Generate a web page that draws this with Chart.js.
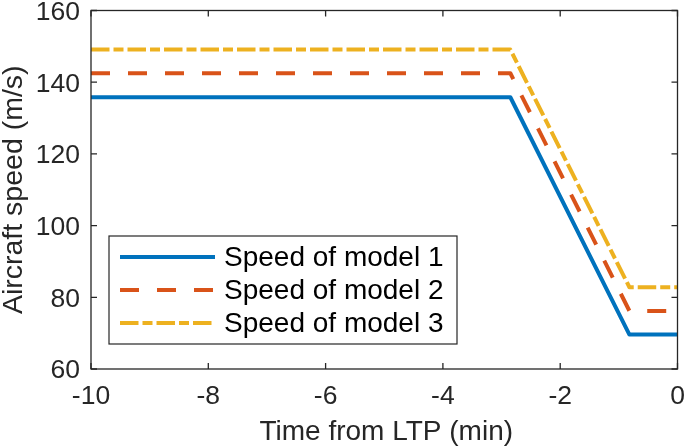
<!DOCTYPE html>
<html>
<head>
<meta charset="utf-8">
<script src="https://cdn.jsdelivr.net/npm/chart.js@4"></script>
<style>
html,body{margin:0;padding:0;background:#fff;}
#wrap{width:685px;height:446px;}
</style>
</head>
<body>
<div id="wrap"><canvas id="c" width="685" height="446"></canvas></div>
<script>
const timeBreaks = [-10, -2.85, -0.82, 0];
const speedModel1 = [135.8, 135.8, 69.6, 69.6];
const speedModel2 = [142.5, 142.5, 76.2, 76.2];
const speedModel3 = [149.1, 149.1, 82.8, 82.8];
const seriesLabels = ['Speed of model 1', 'Speed of model 2', 'Speed of model 3'];
const xTicks = [-10, -8, -6, -4, -2, 0];
const yTicks = [60, 80, 100, 120, 140, 160];
const xTitle = 'Time from LTP (min)';
const yTitle = 'Aircraft speed (m/s)';

const FONT = '"Liberation Sans", Arial, Helvetica, sans-serif';
const AX = '#262626';

function pts(ys){ return timeBreaks.map((x,i)=>({x:x,y:ys[i]})); }

const styles = [
  {color:'#0072BD', dash:[]},
  {color:'#D95319', dash:[19,18]},
  {color:'#EDB120', dash:[18.5,4,10,4]}
];

const datasets = [speedModel1, speedModel2, speedModel3].map((d,i)=>({
  label: seriesLabels[i],
  data: pts(d),
  showLine: true,
  borderColor: styles[i].color,
  backgroundColor: styles[i].color,
  borderWidth: 4,
  borderDash: styles[i].dash,
  pointRadius: 0,
  fill: false,
  tension: 0,
  borderJoinStyle: 'round'
}));

const boxPlugin = {
  id: 'boxPlugin',
  afterDraw(chart){
    const ctx = chart.ctx, a = chart.chartArea;
    const xs = chart.scales.x, ys = chart.scales.y;
    ctx.save();
    ctx.strokeStyle = AX; ctx.lineWidth = 1.3; ctx.setLineDash([]);
    ctx.strokeRect(a.left, a.top, a.right-a.left, a.bottom-a.top);
    const tl = 6;
    ctx.beginPath();
    xTicks.forEach(v=>{
      const px = xs.getPixelForValue(v);
      ctx.moveTo(px, a.bottom); ctx.lineTo(px, a.bottom-tl);
      ctx.moveTo(px, a.top); ctx.lineTo(px, a.top+tl);
    });
    yTicks.forEach(v=>{
      const py = ys.getPixelForValue(v);
      ctx.moveTo(a.left, py); ctx.lineTo(a.left+tl, py);
      ctx.moveTo(a.right, py); ctx.lineTo(a.right-tl, py);
    });
    ctx.stroke();

    // tick labels
    ctx.fillStyle = AX;
    ctx.textBaseline = 'alphabetic';
    const tf = 26.5;
    ctx.font = tf + 'px ' + FONT;
    ctx.textAlign = 'right';
    yTicks.forEach(v=>{
      const py = ys.getPixelForValue(v);
      ctx.fillText(String(v), a.left - 11, py + 0.716*tf/2);
    });
    ctx.textAlign = 'center';
    xTicks.forEach(v=>{
      const px = xs.getPixelForValue(v);
      ctx.fillText(String(v), px, a.bottom + 35);
    });

    // axis titles
    ctx.font = '28px ' + FONT;
    ctx.textAlign = 'center';
    ctx.fillText(xTitle, (a.left + a.right)/2 + 2, a.bottom + 71);
    ctx.save();
    ctx.translate(22, (a.top + a.bottom)/2);
    ctx.rotate(-Math.PI/2);
    ctx.font = '28.5px ' + FONT;
    ctx.fillText(yTitle, 0, 0);
    ctx.restore();

    // legend
    const bx = 109, by = 236, bw = 348, bh = 108;
    ctx.fillStyle = '#fff';
    ctx.fillRect(bx, by, bw, bh);
    ctx.strokeStyle = AX;
    ctx.lineWidth = 1.2;
    ctx.strokeRect(bx, by, bw, bh);
    chart.data.datasets.forEach((ds,i)=>{
      const cy = 257 + i*33;
      ctx.strokeStyle = ds.borderColor;
      ctx.lineWidth = ds.borderWidth;
      ctx.setLineDash(ds.borderDash);
      ctx.beginPath(); ctx.moveTo(120, cy); ctx.lineTo(215, cy); ctx.stroke();
      ctx.setLineDash([]);
      ctx.fillStyle = '#000';
      ctx.font = '28px ' + FONT;
      ctx.textBaseline = 'alphabetic';
      ctx.textAlign = 'left';
      ctx.fillText(ds.label, 224, cy + 9);
    });
    ctx.restore();
  }
};

new Chart(document.getElementById('c'), {
  type: 'scatter',
  data: { datasets },
  options: {
    responsive: false,
    animation: false,
    devicePixelRatio: 1,
    layout: { padding: { top: 10.5, right: 7.5, left: 0, bottom: 0 } },
    plugins: { legend: { display: false }, tooltip: { enabled: false } },
    scales: {
      x: {
        type: 'linear', min: -10, max: 0,
        afterBuildTicks(s){ s.ticks = xTicks.map(v=>({value:v})); },
        afterFit(s){ s.height = 77; s.paddingLeft = 0; s.paddingRight = 0; s.paddingTop = 0; s.paddingBottom = 0; },
        grid: { display: false, drawTicks: false },
        border: { display: false },
        ticks: { display: false },
        title: { display: false, text: xTitle }
      },
      y: {
        type: 'linear', min: 60, max: 160,
        afterBuildTicks(s){ s.ticks = yTicks.map(v=>({value:v})); },
        afterFit(s){ s.width = 91; s.paddingLeft = 0; s.paddingRight = 0; s.paddingTop = 0; s.paddingBottom = 0; },
        grid: { display: false, drawTicks: false },
        border: { display: false },
        ticks: { display: false },
        title: { display: false, text: yTitle }
      }
    }
  },
  plugins: [boxPlugin]
});
</script>
</body>
</html>
